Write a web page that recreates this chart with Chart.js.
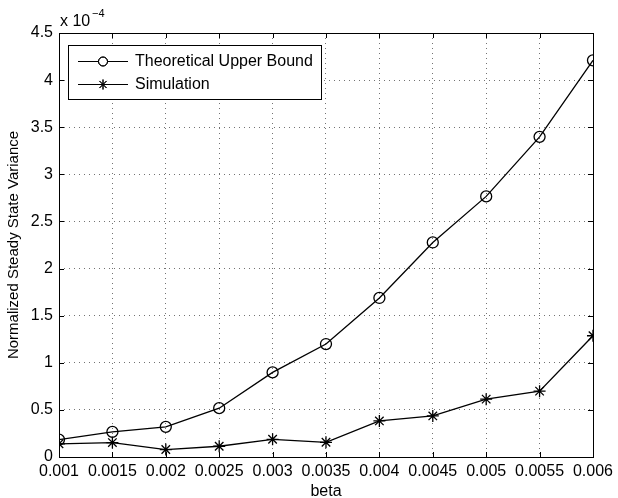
<!DOCTYPE html>
<html>
<head>
<meta charset="utf-8">
<script src="https://cdn.jsdelivr.net/npm/chart.js@4/dist/chart.umd.min.js"></script>
<style>
  html, body { margin: 0; padding: 0; background: #fff; }
  #wrap { width: 618px; height: 498px; }
</style>
</head>
<body>
<div id="wrap"><canvas id="myChart" width="618" height="498"></canvas></div>
<script>
// beta values on x axis
var betaValues = [0.001, 0.0015, 0.002, 0.0025, 0.003, 0.0035, 0.004, 0.0045, 0.005, 0.0055, 0.006];
// variance, in units of 1e-4
var upperBound = [0.185, 0.266, 0.32, 0.518, 0.898, 1.199, 1.688, 2.277, 2.766, 3.398, 4.21];
var simulation = [0.14, 0.153, 0.079, 0.114, 0.188, 0.156, 0.383, 0.436, 0.614, 0.699, 1.287];
// tick labels
var xTickLabels = ["0.001", "0.0015", "0.002", "0.0025", "0.003", "0.0035", "0.004", "0.0045", "0.005", "0.0055", "0.006"];
var yTicks = [0, 0.5, 1, 1.5, 2, 2.5, 3, 3.5, 4, 4.5];
var yTickLabels = ["0", "0.5", "1", "1.5", "2", "2.5", "3", "3.5", "4", "4.5"];
var seriesNames = ["Theoretical Upper Bound", "Simulation"];

var FONT = "'Liberation Sans', Arial, Helvetica, sans-serif";

function toPoints(ys) {
  return betaValues.map(function(x, i) { return { x: x, y: ys[i] }; });
}

function innerGrid(ctx) {
  var n = ctx.scale.ticks.length;
  if (ctx.index === 0 || ctx.index === n - 1) return 'rgba(0,0,0,0)';
  return 'rgba(0,0,0,0.55)';
}

// box, inward ticks, legend and exponent label (matlab look)
var matlabPlugin = {
  id: 'matlab',
  afterDraw: function(chart) {
    var c = chart.ctx;
    var a = chart.chartArea;
    var xs = chart.scales.x, ys = chart.scales.y;
    c.save();
    c.strokeStyle = '#000';
    c.lineWidth = 1;
    c.strokeRect(Math.round(a.left) + 0.5, Math.round(a.top) + 0.5,
      Math.round(a.right - a.left), Math.round(a.bottom - a.top));
    c.beginPath();
    xs.ticks.forEach(function(t) {
      var px = Math.round(xs.getPixelForValue(t.value)) + 0.5;
      c.moveTo(px, a.bottom); c.lineTo(px, a.bottom - 5);
      c.moveTo(px, a.top); c.lineTo(px, a.top + 5);
    });
    ys.ticks.forEach(function(t) {
      var py = Math.round(ys.getPixelForValue(t.value)) + 0.5;
      c.moveTo(a.left, py); c.lineTo(a.left + 5, py);
      c.moveTo(a.right, py); c.lineTo(a.right - 5, py);
    });
    c.stroke();

    // exponent
    c.fillStyle = '#000';
    c.textBaseline = 'alphabetic';
    c.textAlign = 'left';
    c.font = '16px ' + FONT;
    c.fillText('x 10', a.left + 1, 26);
    c.font = '11px ' + FONT;
    c.fillText('\u22124', a.left + 33, 17);

    // legend
    var bx = 68, by = 45, bw = 253, bh = 54;
    c.fillStyle = '#fff';
    c.fillRect(bx, by, bw, bh);
    c.strokeRect(bx + 0.5, by + 0.5, bw, bh);
    var rows = [61, 84];
    var styles = ['circle', 'star'];
    rows.forEach(function(ry, i) {
      c.beginPath();
      c.moveTo(78, ry + 0.5); c.lineTo(128, ry + 0.5);
      c.stroke();
      Chart.helpers.drawPoint(c, { pointStyle: styles[i], radius: i === 0 ? 4.5 : 5, borderWidth: 1 }, 103, ry + 0.5);
      c.stroke();
      c.fillStyle = '#000';
      c.font = '16px ' + FONT;
      c.textBaseline = 'middle';
      c.fillText(seriesNames[i], 135, ry + 1);
    });
    c.restore();
  }
};

new Chart("myChart", {
  type: "line",
  data: {
    datasets: [{
      label: seriesNames[0],
      data: toPoints(upperBound),
      borderColor: '#000',
      borderWidth: 1.3,
      backgroundColor: 'rgba(0,0,0,0)',
      pointStyle: 'circle',
      pointRadius: 5.5,
      pointBorderWidth: 1.3,
      pointBorderColor: '#000',
      pointBackgroundColor: 'rgba(0,0,0,0)',
      tension: 0
    }, {
      label: seriesNames[1],
      data: toPoints(simulation),
      borderColor: '#000',
      borderWidth: 1.3,
      backgroundColor: 'rgba(0,0,0,0)',
      pointStyle: 'star',
      pointRadius: 6,
      pointBorderWidth: 1.3,
      pointBorderColor: '#000',
      tension: 0
    }]
  },
  options: {
    responsive: false,
    animation: false,
    layout: { padding: { left: 0, right: 21, top: 33, bottom: 0 } },
    plugins: {
      legend: { display: false },
      tooltip: { enabled: false }
    },
    scales: {
      x: {
        type: 'linear',
        min: 0.001,
        max: 0.006,
        afterBuildTicks: function(scale) {
          scale.ticks = betaValues.map(function(v) { return { value: v }; });
        },
        afterFit: function(scale) { scale.height = 41; },
        ticks: {
          padding: 5,
          color: '#000',
          font: { family: FONT, size: 16 },
          maxRotation: 0,
          autoSkip: false,
          callback: function(v, i) { return xTickLabels[i]; }
        },
        grid: { color: innerGrid, drawTicks: false, lineWidth: 1 },
        border: { display: false, dash: [1, 4] },
        title: {
          display: true,
          text: 'beta',
          color: '#000',
          font: { family: FONT, size: 16, lineHeight: 0.8 },
          padding: { top: 0, bottom: 0 }
        }
      },
      y: {
        min: 0,
        max: 4.5,
        afterBuildTicks: function(scale) {
          scale.ticks = yTicks.map(function(v) { return { value: v }; });
        },
        afterFit: function(scale) { scale.width = 59; },
        ticks: {
          padding: 6,
          color: '#000',
          font: { family: FONT, size: 16 },
          callback: function(v, i) { return yTickLabels[i]; }
        },
        grid: { color: innerGrid, drawTicks: false, lineWidth: 1 },
        border: { display: false, dash: [1, 4] },
        title: {
          display: true,
          text: 'Normalized Steady State Variance',
          color: '#000',
          font: { family: FONT, size: 15 },
          padding: { top: 5, bottom: 0 }
        }
      }
    }
  },
  plugins: [matlabPlugin]
});
</script>
</body>
</html>
